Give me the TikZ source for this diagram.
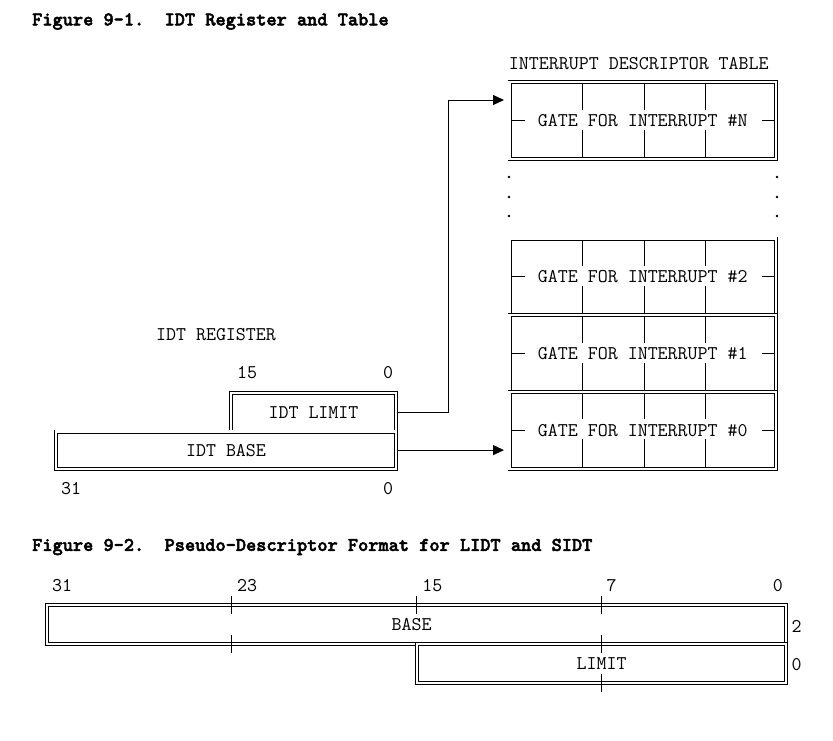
\documentclass[tikz,border=0pt]{standalone}
\usepackage{fontspec}
\newfontfamily\ttlfont{lmmonolt10-bold.otf}[FakeBold=2.5]
\usepackage{tikz}
\usetikzlibrary{arrows.meta}

\begin{document}
\begin{tikzpicture}[x=1pt,y=-1pt,
  txt/.style={inner sep=0pt,font=\ttfamily\fontsize{19.4}{22}\selectfont,text height=11.8pt,text depth=0pt},
  ttl/.style={txt,font=\ttlfont\fontsize{19.4}{22}\selectfont,anchor=west},
  reg/.style={draw,double,double distance=2.2pt,line width=0.9pt,inner sep=0pt,outer sep=0pt,
    font=\ttfamily\fontsize{19.4}{22}\selectfont,text height=11.8pt,text depth=0pt},
  gate/.style={reg,minimum width=266.5pt,minimum height=76.7pt},
  tick/.style={line width=0.9pt},
  link/.style={line width=1pt,-{Triangle[length=11pt,width=10pt]},shorten <=1.6pt,shorten >=5.5pt}]
\useasboundingbox (0,0) rectangle (833,740);

%%% Figure 9-1
\node[ttl] (ttla) at (32,19.5) {Figure 9-1.\ \ IDT Register and Table};
\node[txt] (idt) at (638.8,63.3) {INTERRUPT DESCRIPTOR TABLE};

\foreach \g/\c/\n in {gN/120.5/N, g2/276.85/2, g1/353.55/1, g0/430.25/0} {
  \node[gate] (\g) at (642.75,\c) {GATE FOR INTERRUPT \#\n};
  \foreach \tx in {582,644,705} {
    \draw[tick] (\tx,\c-36.8) -- (\tx,\c-11);
    \draw[tick] (\tx,\c+9) -- (\tx,\c+36.8);
  }
  \draw[tick] (511,\c) -- (525,\c);
  \draw[tick] (762,\c) -- (774.5,\c);
}
% dots between gate N and gate 2
\foreach \dy in {177,197,216} {
  \fill (509,\dy) circle (1.3pt);
  \fill (777,\dy) circle (1.3pt);
}

\node[txt] (regl) at (216,335) {IDT REGISTER};
\node[txt] (l15) at (247,373) {15};
\node[txt] (l0a) at (388,373) {0};
\node[reg,minimum width=165pt,minimum height=38.5pt] (lim) at (313.5,412.25) {IDT LIMIT};
\node[reg,minimum width=340pt,minimum height=37.2pt] (base) at (226,450.1) {IDT BASE};
\node[txt] (l31) at (71,489) {31};
\node[txt] (l0b) at (388,489) {0};

\coordinate (bend) at (448,100);
\draw[link] (lim.east) -| (bend) -- (bend -| gN.west);
\draw[link] (base.east) -- (base.east -| g0.west);

%%% Figure 9-2
\node[ttl] (ttlb) at (32,545) {Figure 9-2.\ \ Pseudo-Descriptor Format for LIDT and SIDT};
\foreach \bx/\bn in {62.2/31, 247/23, 432.3/15, 611.5/7, 777.8/0}
  \node[txt] (p\bn) at (\bx,586) {\bn};
\node[reg,minimum width=739.3pt,minimum height=38.5pt] (pbase) at (416.65,624.55) {BASE\hspace*{10pt}};
\node[reg,minimum width=369.3pt,minimum height=39.2pt] (plim) at (601.65,663.4) {LIMIT};
\node[txt] (pr2) at (796.5,626.7) {2};
\node[txt] (pr0) at (796.5,665) {0};
\foreach \tx/\ty in {231.7/605.3, 231.7/643.8, 416.7/605.3, 601.7/605.3, 601.7/643.8, 601.7/683}
  \draw[tick] (\tx,\ty-9) -- (\tx,\ty+9);

\end{tikzpicture}
\end{document}
